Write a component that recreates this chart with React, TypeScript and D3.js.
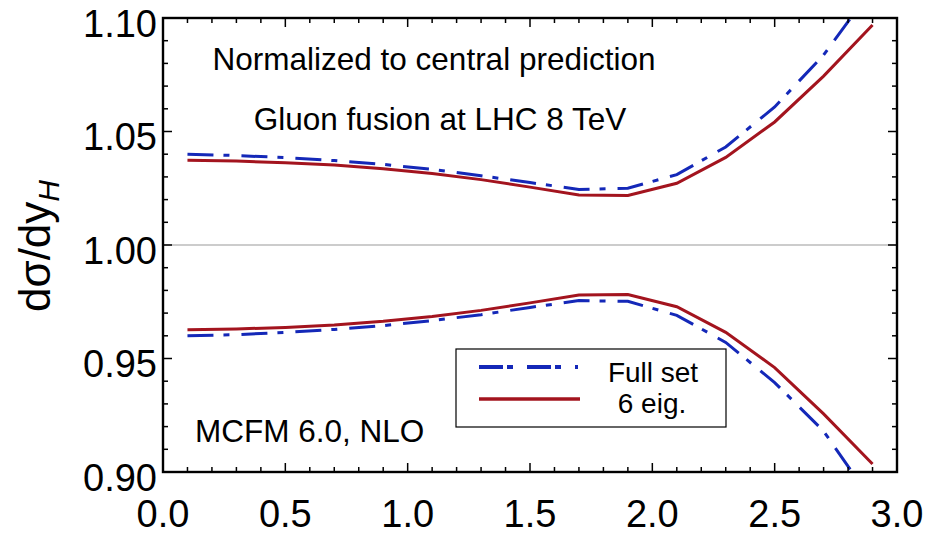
import React from "react";
import * as d3 from "d3";

const xs = [0.1, 0.3, 0.5, 0.7, 0.9, 1.1, 1.3, 1.5, 1.7, 1.9, 2.1, 2.3, 2.5, 2.7, 2.9];
const redUpper = [1.0373, 1.0370, 1.0362, 1.0352, 1.0336, 1.0315, 1.0288, 1.0255, 1.0220, 1.0218, 1.0272, 1.0386, 1.0542, 1.0744, 1.0969];
const blueUpper = [1.0400, 1.0394, 1.0385, 1.0372, 1.0355, 1.0333, 1.0305, 1.0275, 1.0245, 1.0250, 1.0310, 1.0432, 1.0608, 1.0837, 1.1130];
const redLower = [0.9627, 0.9630, 0.9637, 0.9648, 0.9664, 0.9685, 0.9712, 0.9745, 0.9780, 0.9782, 0.9728, 0.9615, 0.9460, 0.9256, 0.9035];
const blueLower = [0.9600, 0.9605, 0.9615, 0.9628, 0.9645, 0.9667, 0.9693, 0.9725, 0.9755, 0.9752, 0.9690, 0.9571, 0.9394, 0.9180, 0.8870];

const xTickLabels = ["0.0", "0.5", "1.0", "1.5", "2.0", "2.5", "3.0"];
const yTickLabels = ["0.90", "0.95", "1.00", "1.05", "1.10"];
const legendLabels = ["Full set", "6 eig."];
const annotations = ["Normalized to central prediction", "Gluon fusion at LHC 8 TeV", "MCFM 6.0, NLO"];

const W = 930, H = 535;
const L = 163, R = 897, T = 18, B = 472;
const FONT = "'Liberation Sans', Arial, Helvetica, sans-serif";
const RED = "#a3141e";
const BLUE = "#1428b8";

export default function App() {
  const x = d3.scaleLinear().domain([0, 3]).range([L, R]);
  const y = d3.scaleLinear().domain([0.9, 1.1]).range([B, T]);
  const line = d3.line<number>().x((_, i) => x(xs[i])).y((d) => y(d));

  const xMinor = d3.range(0, 31).map((i) => i / 10);
  const yMinor = d3.range(0, 21).map((i) => 0.9 + i / 100);
  const isMajorX = (v: number) => Math.abs(v * 2 - Math.round(v * 2)) < 1e-6;
  const isMajorY = (v: number) => Math.abs(v * 20 - Math.round(v * 20)) < 1e-6;

  const dash = "26,10,6,12";

  return (
    <svg width={W} height={H} style={{ position: "absolute", left: 0, top: 0, background: "#fff" }} fontFamily={FONT}>
      <defs>
        <clipPath id="plotclip">
          <rect x={L} y={T} width={R - L} height={B - T} />
        </clipPath>
      </defs>
      <rect x={0} y={0} width={W} height={H} fill="#fff" />
      {/* reference line at 1.00 */}
      <line x1={L} x2={R} y1={y(1.0)} y2={y(1.0)} stroke="#999" strokeWidth={1.2} />

      {/* curves */}
      <g clipPath="url(#plotclip)" fill="none" strokeWidth={3}>
        <path d={line(blueUpper) || ""} stroke={BLUE} strokeDasharray={dash} />
        <path d={line(blueLower) || ""} stroke={BLUE} strokeDasharray={dash} />
        <path d={line(redUpper) || ""} stroke={RED} />
        <path d={line(redLower) || ""} stroke={RED} />
      </g>

      {/* ticks */}
      <g stroke="#000" strokeWidth={1.5}>
        {xMinor.map((v, i) => {
          const len = isMajorX(v) ? 9 : 5;
          return (
            <g key={"xt" + i}>
              <line x1={x(v)} x2={x(v)} y1={B} y2={B - len} />
              <line x1={x(v)} x2={x(v)} y1={T} y2={T + len} />
            </g>
          );
        })}
        {yMinor.map((v, i) => {
          const len = isMajorY(v) ? 9 : 5;
          return (
            <g key={"yt" + i}>
              <line x1={L} x2={L + len} y1={y(v)} y2={y(v)} />
              <line x1={R} x2={R - len} y1={y(v)} y2={y(v)} />
            </g>
          );
        })}
      </g>

      {/* frame */}
      <rect x={L} y={T} width={R - L} height={B - T} fill="none" stroke="#000" strokeWidth={2.4} />

      {/* tick labels */}
      {xTickLabels.map((t) => (
        <text key={"xl" + t} x={x(+t)} y={527} textAnchor="middle" fontSize={38} fill="#000">
          {t}
        </text>
      ))}
      {yTickLabels.map((t) => (
        <text key={"yl" + t} x={157} y={y(+t)} dy="0.49em" textAnchor="end" fontSize={38} fill="#000">
          {t}
        </text>
      ))}

      {/* y axis title */}
      <text transform={`translate(50,${246}) rotate(-90)`} textAnchor="middle" fontSize={44} fill="#000">
        dσ/dy
        <tspan fontSize={30} fontStyle="italic" dy={9}>H</tspan>
      </text>

      {/* annotations */}
      <text x={434} y={70} textAnchor="middle" fontSize={31.5} fill="#000">{annotations[0]}</text>
      <text x={440} y={130} textAnchor="middle" fontSize={31.5} fill="#000">{annotations[1]}</text>
      <text x={195} y={442} textAnchor="start" fontSize={31.5} fill="#000">{annotations[2]}</text>

      {/* legend */}
      <rect x={456} y={349} width={270} height={78} fill="#fff" stroke="#000" strokeWidth={1.2} />
      <line x1={479} x2={578} y1={367} y2={367} stroke={BLUE} strokeWidth={4} strokeDasharray="24,4,6,14" />
      <line x1={479} x2={580} y1={399} y2={399} stroke={RED} strokeWidth={3.5} />
      <text x={653} y={382} textAnchor="middle" fontSize={28} fill="#000">{legendLabels[0]}</text>
      <text x={652} y={413} textAnchor="middle" fontSize={28} fill="#000">{legendLabels[1]}</text>
    </svg>
  );
}
